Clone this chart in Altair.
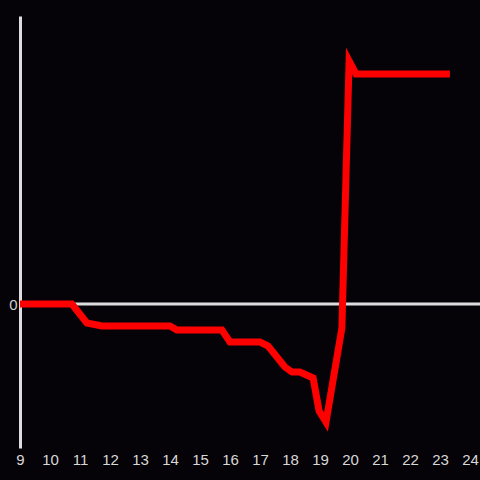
import altair as alt
import pandas as pd

hours = [9.0, 10.73, 11.23, 11.73, 14.0, 14.23, 15.73, 16.0, 17.0, 17.27, 17.83, 18.07,
         18.33, 18.77, 18.97, 19.2, 19.73, 19.97, 20.2, 23.33]
values = [0.0, 0.0, -1.9, -2.2, -2.2, -2.6, -2.6, -3.8, -3.8, -4.2, -6.3, -6.8,
          -6.8, -7.4, -10.7, -11.8, -2.4, 24.3, 23.0, 23.0]
x_ticks = list(range(9, 25))

df = pd.DataFrame({"x": hours, "y": values})

xscale = alt.Scale(domain=[9, 9 + 460 / 30], nice=False, zero=False)
yscale = alt.Scale(domain=[-14.4, 28.8], nice=False, zero=False)

yaxis = alt.Axis(
    values=[0], title=None, grid=False, ticks=False, domain=True,
    domainColor="#dddddd", domainWidth=3,
    labelColor="#cfcfcf", labelFontSize=15, labelFont="Liberation Sans",
    labelPadding=3)
xaxis = alt.Axis(
    values=x_ticks, title=None, grid=False, ticks=False, domain=False,
    labelColor="#d8d8d8", labelFontSize=15, labelFont="Liberation Sans",
    labelPadding=4, labelFlush=False)

zero = alt.Chart(pd.DataFrame({"y": [0]})).mark_rule(
    color="#dddddd", strokeWidth=3
).encode(y=alt.Y("y:Q", scale=yscale, axis=yaxis))

line = alt.Chart(df).mark_line(
    color="#ff0000", strokeWidth=7, strokeCap="butt", strokeJoin="miter"
).encode(
    x=alt.X("x:Q", scale=xscale, axis=xaxis),
    y=alt.Y("y:Q", scale=yscale, axis=yaxis),
)

chart = alt.layer(zero, line).properties(
    width=460, height=432,
    background="#050308",
    padding={"left": 20, "top": 16, "right": 0, "bottom": 32},
    autosize=alt.AutoSizeParams(type="none"),
).configure_view(strokeWidth=0)

chart.save("out.html", embed_options={"renderer": "svg", "actions": False,
                                      "defaultStyle": "body{margin:0;background:#050308;}"})
